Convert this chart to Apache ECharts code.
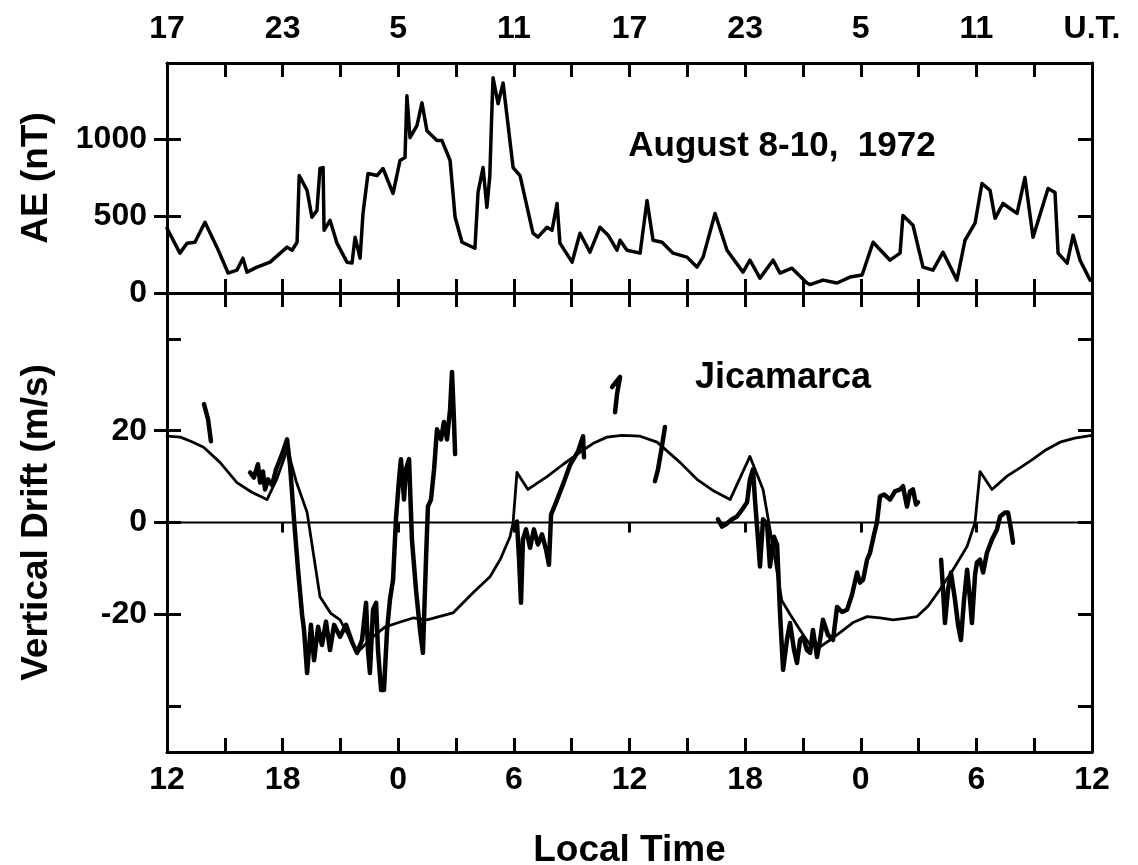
<!DOCTYPE html>
<html>
<head>
<meta charset="utf-8">
<script src="https://cdn.jsdelivr.net/npm/echarts@6/dist/echarts.min.js"></script>
<style>
html,body{margin:0;padding:0;background:#fff;}
#chart{width:1138px;height:865px;}
</style>
</head>
<body>
<div id="chart"></div>
<script>
// ---- tick labels ----
const ltTickLabels = ['12','18','0','6','12','18','0','6','12'];
const utTickLabels = ['17','23','5','11','17','23','5','11','U.T.'];
const aeLabelValues = [0, 500, 1000];
const driftLabelValues = [-20, 0, 20];
const driftTickValues = [-40, -20, 0, 20, 40];

// x = hours after 12 LT of the first day (0..48)
// ---- AE index (nT) ----
const aeData = [
  [0,422],[0.67,260],[1.04,325],[1.45,331],[1.97,461],[2.59,299],[3.17,130],[3.63,149],
  [3.94,227],[4.15,136],[4.67,169],[5.35,201],[6.23,299],[6.49,279],[6.75,331],[6.86,766],
  [7.27,669],[7.52,494],[7.78,539],[7.94,812],[8.10,818],[8.15,409],[8.46,474],[8.82,325],
  [9.34,201],[9.60,195],[9.76,364],[10.02,227],[10.17,519],[10.43,779],[10.90,766],[11.21,812],
  [11.73,649],[12.09,864],[12.35,883],[12.45,1286],[12.61,1013],[12.97,1091],[13.23,1240],[13.49,1058],
  [14.01,994],[14.27,994],[14.69,864],[14.95,494],[15.31,331],[15.98,292],[16.14,656],[16.40,818],
  [16.60,558],[16.75,760],[16.87,1234],[16.92,1403],[17.18,1234],[17.44,1370],[17.96,818],[18.32,766],
  [18.99,390],[19.25,364],[19.72,429],[19.98,409],[20.24,584],[20.39,325],[21.02,201],[21.43,390],
  [21.95,266],[22.47,429],[22.89,377],[23.35,279],[23.51,344],[23.87,279],[24.55,260],[24.91,604],
  [25.22,344],[25.69,331],[26.26,260],[26.98,234],[27.50,169],[27.82,234],[28.44,519],[29.06,279],
  [29.89,136],[30.25,214],[30.77,97],[31.45,214],[31.81,130],[32.43,162],[33.21,65],[33.37,55],
  [34.04,84],[34.77,65],[35.44,104],[36.07,117],[36.64,331],[37.52,214],[38.04,260],[38.19,506],
  [38.71,442],[39.23,169],[39.75,149],[40.27,266],[40.99,84],[41.41,344],[41.93,455],[42.29,714],
  [42.71,669],[42.97,487],[43.38,584],[44.11,519],[44.52,753],[44.94,364],[45.72,682],[46.08,656],
  [46.24,260],[46.71,195],[47.02,377],[47.38,214],[47.90,84]
];

// ---- average (model) vertical drift, m/s ----
const driftModel = [
  [0,18.8],[0.7,18.6],[1.35,17.5],[1.9,16.4],[2.75,13.1],[3.63,8.7],[4.4,6.6],[5.19,5.0],
  [5.7,9.5],[6.25,16],[6.7,9],[7.27,2.2],[7.94,-16.2],[8.5,-19.8],[8.98,-21.2],[9.4,-24.5],
  [9.86,-28.4],[10.69,-24.9],[11.3,-22.8],[11.94,-21.9],[12.77,-20.8],[13.49,-21.2],[14.84,-19.7],
  [15.88,-15.3],[16.76,-11.8],[17.3,-8],[17.8,-3.1],[17.96,0],[18.16,10.9],[18.73,7.2],
  [19.72,10],[20.6,12.8],[21.43,15.3],[22.1,17.2],[22.83,18.6],[23.6,19],[24.55,18.8],
  [25.43,17.5],[26.62,13.1],[27.5,9.4],[28.4,6.8],[29.22,5],[30.25,14.4],[30.93,7.2],
  [31.29,-1.5],[31.55,-8],[31.9,-17],[32.33,-20],[32.85,-23.4],[33.37,-26.7],[33.89,-27.1],
  [34.4,-25.6],[34.92,-24],[35.6,-21.8],[36.33,-20.5],[37.0,-20.8],[37.68,-21.2],[38.3,-20.9],
  [38.92,-20.5],[39.5,-18.2],[40.11,-14.6],[40.79,-10.3],[41.52,-5.2],[41.93,0],[42.19,11.1],
  [42.81,7.2],[43.59,10.1],[44.3,12],[44.94,13.8],[45.6,15.8],[46.34,17.5],[47.1,18.4],
  [47.74,18.8],[48,19]
];

// ---- measured Jicamarca drift segments, m/s ----
const driftSegA = [[1.92,25.8],[2.13,22.5],[2.28,17.7]];
const driftSegB = [
  [4.31,10.9],[4.51,9.8],[4.72,12.7],[4.83,8.7],[4.98,11.1],[5.09,7.2],[5.24,9.4],[5.45,8.1],
  [5.66,11.6],[5.97,14.9],[6.23,18.1],[6.38,12.7],[6.59,0.7],[6.80,-10.3],[7.01,-20.1],[7.11,-23.4],
  [7.27,-32.8],[7.47,-22.3],[7.63,-30],[7.84,-22.7],[8.04,-26.7],[8.25,-21.6],[8.46,-27.8],[8.67,-22.3],
  [8.98,-24.9],[9.29,-22.3],[9.60,-26],[9.86,-28.4],[10.12,-25.6],[10.33,-17.5],[10.43,-27.8],[10.53,-32.8],
  [10.69,-19],[10.85,-17.5],[10.95,-27.8],[11.11,-36.5],[11.26,-36.5],[11.42,-23.4],[11.57,-16.8],[11.73,-12.5],
  [11.88,0.7],[12.04,9.4],[12.14,13.8],[12.30,5],[12.40,11.6],[12.56,13.8],[12.71,-3.7],[12.92,-14.6],
  [13.13,-23.4],[13.28,-28.4],[13.44,-8.1],[13.54,3.5],[13.70,5],[13.86,11.6],[14.01,20.3],[14.22,18.1],
  [14.37,21.9],[14.53,18.1],[14.69,24.7],[14.79,32.8],[14.89,22.5],[14.95,14.9]
];
const driftSegC = [[23.09,29.5],[23.51,31.7],[23.35,27.9],[23.25,24]];
const driftSegD = [[25.32,9],[25.48,11.6],[25.64,15.5],[25.74,18.1],[25.84,20.8]];
const driftSegE = [
  [18.16,0.2],[18.27,-8.1],[18.37,-17.5],[18.47,-3.7],[18.63,-1.5],[18.84,-5.5],[19.04,-1.5],
  [19.25,-4.8],[19.46,-2.6],[19.67,-5.9],[19.82,-9.2],[19.93,1.7],[20.19,4.4],[20.55,8.3],
  [20.91,12.5],[21.33,15.5],[21.59,18.8],[21.64,14.2]
];
const driftSegF = [
  [28.59,0.7],[28.80,-0.9],[29.01,-0.4],[29.32,0.7],[29.58,1.3],[29.84,2.8],[30.10,4.4],[30.25,9.4],
  [30.41,11.6],[30.51,5],[30.67,-3.7],[30.77,-9.6],[30.93,0.7],[31.14,-0.4],[31.29,-9.6],[31.50,-3.1],
  [31.66,-4.8],[31.81,-19.7],[31.97,-32.1],[32.17,-25.6],[32.33,-21.9],[32.54,-27.8],[32.69,-30.6],
  [32.85,-25.6],[33.00,-24.9],[33.21,-27.8],[33.37,-28.4],[33.52,-23.4],[33.73,-29.3],[33.89,-25.6],
  [34.04,-21.2],[34.30,-24.5],[34.56,-25.6],[34.77,-18.4],[35.03,-19.5],[35.29,-19],[35.55,-15.7],
  [35.81,-10.9],[35.96,-13.1],[36.12,-12.5],[36.33,-8.1],[36.48,-6.6],[36.69,-2.6],[36.84,0],
  [37.00,5.7],[37.21,6.1],[37.52,5],[37.78,6.8],[38.04,7.2],[38.19,7.9],[38.40,3.5],[38.56,6.8],
  [38.71,7.2],[38.87,3.9],[38.97,4.4]
];
const driftSegG = [
  [40.17,-8.1],[40.27,-14.6],[40.37,-21.9],[40.53,-14.6],[40.68,-10.9],[40.89,-16.8],[41.05,-22.3],
  [41.20,-25.6],[41.36,-16.8],[41.52,-10.3],[41.67,-16.8],[41.77,-21.9],[41.93,-11.4],[42.03,-8.7],
  [42.19,-8.1],[42.35,-10.9],[42.55,-6.6],[42.81,-3.7],[43.07,-1.5],[43.23,1.3],[43.49,2.2],
  [43.64,2.2],[43.80,-1.5],[43.90,-4.4]
];
const zeroLine = [[0,0],[48,0]];

// ---------------------------------------------------------------
const FONT = 'Liberation Sans, Arial, Helvetica, sans-serif';
const BLACK = '#000';
const tickStyle = { color: BLACK, width: 3 };

function xAxisBase(gridIndex, position, extra) {
  return Object.assign({
    type: 'value', gridIndex, position, min: 0, max: 48, interval: 3,
    splitLine: { show: false },
    axisLine: { show: true, onZero: false, lineStyle: { color: BLACK, width: 3 } },
    axisTick: { show: true, inside: true, length: 14, lineStyle: tickStyle },
    axisLabel: { show: false }
  }, extra || {});
}
function yAxisBase(gridIndex, position, min, max, extra) {
  return Object.assign({
    type: 'value', gridIndex, position, min, max,
    splitLine: { show: false },
    axisLine: { show: true, onZero: false, lineStyle: { color: BLACK, width: 3 } },
    axisLabel: { show: false }
  }, extra || {});
}
const labelFont = { color: BLACK, fontFamily: FONT, fontSize: 32, fontWeight: 'bold' };
const nameFont = { color: BLACK, fontFamily: FONT, fontSize: 37, fontWeight: 'bold' };

const ltFormatter = v => (v % 6 === 0 ? ltTickLabels[v / 6] : '');
const utFormatter = v => (v % 6 === 0 ? utTickLabels[v / 6] : '');
const plainFormatter = v => String(v);

const option = {
  animation: false,
  backgroundColor: '#fff',
  grid: [
    { left: 167, right: 46, top: 63, height: 230, show: false, containLabel: false, outerBoundsMode: 'none' },
    { left: 167, right: 46, top: 293, height: 459, show: false, containLabel: false, outerBoundsMode: 'none' }
  ],
  xAxis: [
    xAxisBase(0, 'bottom'),
    xAxisBase(0, 'top', {
      axisLabel: Object.assign({ show: true, margin: 18, formatter: utFormatter }, labelFont)
    }),
    xAxisBase(1, 'bottom', {
      axisLabel: Object.assign({ show: true, margin: 12, formatter: ltFormatter }, labelFont),
      name: 'Local Time', nameLocation: 'middle', nameGap: 80,
      nameTextStyle: nameFont
    }),
    xAxisBase(1, 'top'),
    xAxisBase(1, 'bottom', {
      interval: 6,
      axisLine: { show: false },
      axisTick: { show: true, inside: false, length: 10, lineStyle: tickStyle }
    })
  ],
  yAxis: [
    yAxisBase(0, 'left', 0, 1500, {
      interval: 500,
      axisTick: { show: true, inside: true, length: 14, lineStyle: tickStyle },
      axisLabel: Object.assign({ show: true, margin: 20, customValues: aeLabelValues, formatter: plainFormatter }, labelFont),
      name: 'AE (nT)', nameLocation: 'middle', nameGap: 112, nameRotate: 90,
      nameTextStyle: nameFont
    }),
    yAxisBase(0, 'right', 0, 1500, {
      interval: 500,
      axisTick: { show: true, inside: true, length: 14, lineStyle: tickStyle }
    }),
    yAxisBase(0, 'left', 0, 1500, {
      axisLine: { show: false },
      axisTick: { show: true, inside: false, length: 13, customValues: aeLabelValues, lineStyle: tickStyle }
    }),
    yAxisBase(1, 'left', -50, 50, {
      axisTick: { show: true, inside: true, length: 14, customValues: driftTickValues, lineStyle: tickStyle },
      axisLabel: Object.assign({ show: true, margin: 20, customValues: driftLabelValues, formatter: plainFormatter }, labelFont),
      name: 'Vertical Drift (m/s)', nameLocation: 'middle', nameGap: 112, nameRotate: 90,
      nameTextStyle: nameFont
    }),
    yAxisBase(1, 'right', -50, 50, {
      axisTick: { show: true, inside: true, length: 14, customValues: driftTickValues, lineStyle: tickStyle }
    }),
    yAxisBase(1, 'left', -50, 50, {
      axisLine: { show: false },
      axisTick: { show: true, inside: false, length: 13, customValues: driftLabelValues, lineStyle: tickStyle }
    })
  ],
  graphic: [
    { type: 'text', x: 782, y: 146, style: { text: 'August 8-10,  1972', fill: BLACK, font: 'bold 35px ' + FONT, textAlign: 'center', textVerticalAlign: 'middle' } },
    { type: 'text', x: 783, y: 378, style: { text: 'Jicamarca', fill: BLACK, font: 'bold 36px ' + FONT, textAlign: 'center', textVerticalAlign: 'middle' } }
  ],
  series: []
};

function lineSeries(data, xi, yi, width, z) {
  return {
    type: 'line', data, xAxisIndex: xi, yAxisIndex: yi,
    showSymbol: false, symbol: 'none', silent: true, z: z || 2,
    lineStyle: { color: BLACK, width, join: 'round', cap: 'round' }
  };
}
option.series.push(lineSeries(aeData, 0, 0, 3.5));
option.series.push(lineSeries(zeroLine, 2, 3, 2));
option.series.push(lineSeries(driftModel, 2, 3, 2.8));
[driftSegA, driftSegB, driftSegC, driftSegD, driftSegE, driftSegF, driftSegG].forEach(s => {
  option.series.push(lineSeries(s, 2, 3, 4.5, 3));
});

const chart = echarts.init(document.getElementById('chart'), null, { renderer: 'canvas' });
chart.setOption(option);
</script>
</body>
</html>
